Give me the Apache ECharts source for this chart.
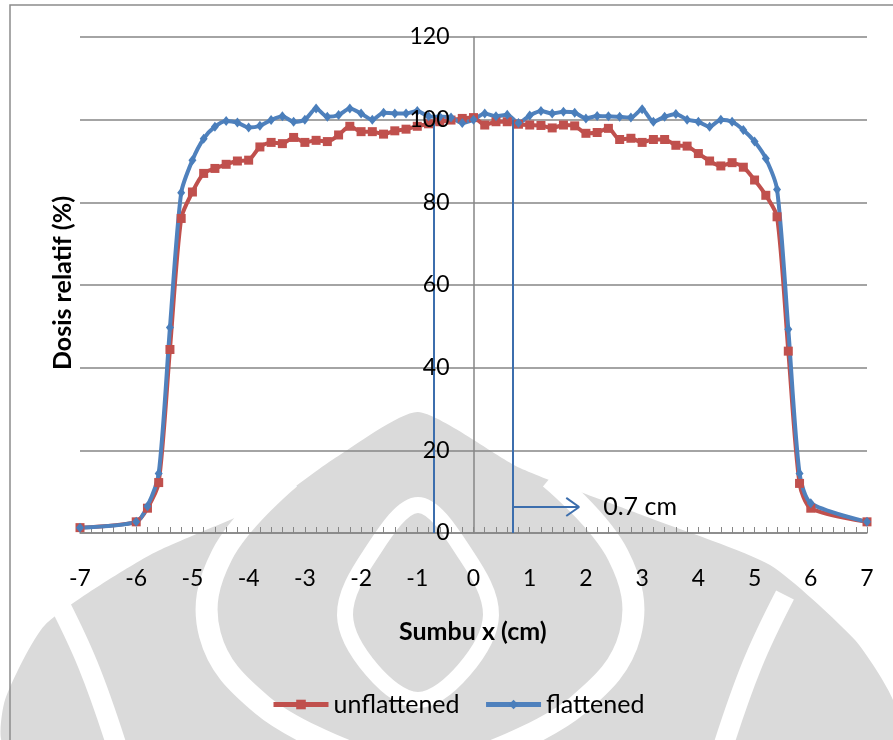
<!DOCTYPE html>
<html>
<head>
<meta charset="utf-8">
<script src="https://cdn.jsdelivr.net/npm/echarts@6/dist/echarts.min.js"></script>
<style>
  html, body { margin: 0; padding: 0; background: #fff; }
  #chart { width: 893px; height: 740px; }
</style>
</head>
<body>
<div id="chart"></div>
<script>
// posisi x (cm)
const xPos = [-7, -6, -5.8, -5.6, -5.4, -5.2, -5, -4.8, -4.6, -4.4, -4.2, -4, -3.8, -3.6, -3.4, -3.2, -3, -2.8, -2.6, -2.4, -2.2, -2, -1.8, -1.6, -1.4, -1.2, -1, -0.8, -0.6, -0.4, -0.2,
  0, 0.2, 0.4, 0.6, 0.8, 1, 1.2, 1.4, 1.6, 1.8, 2, 2.2, 2.4, 2.6, 2.8, 3, 3.2, 3.4, 3.6, 3.8, 4, 4.2, 4.4, 4.6, 4.8, 5, 5.2, 5.4, 5.6, 5.8, 6, 7];

const unflattened = [1.3, 2.7, 6.0, 12.2, 44.4, 76.1, 82.5, 87.0, 88.2, 89.2, 90.0, 90.2, 93.4, 94.5, 94.2, 95.7, 94.5, 95.0, 94.7, 96.3, 98.4, 97.1, 97.1, 96.5, 97.3, 97.7, 98.4, 99.0, 99.5, 99.9, 100.3,
  100.5, 98.7, 99.5, 99.5, 98.9, 98.7, 98.6, 98.0, 98.7, 98.5, 96.7, 96.9, 97.9, 95.2, 95.5, 94.5, 95.2, 95.2, 93.8, 93.6, 91.8, 90.0, 88.8, 89.6, 88.5, 85.4, 81.7, 76.5, 44.0, 12.0, 6.0, 2.7];

const flattened = [1.3, 2.7, 6.5, 14.4, 49.7, 82.3, 90.2, 95.4, 98.3, 99.7, 99.3, 98.1, 98.5, 99.9, 100.8, 99.5, 100.0, 102.7, 100.7, 101.1, 102.7, 101.5, 100.0, 101.7, 101.5, 101.5, 102.1, 100.8, 100.7, 100.5, 99.2,
  100.0, 101.5, 100.8, 101.2, 99.2, 101.0, 102.1, 101.5, 101.9, 101.7, 100.3, 100.9, 100.8, 100.7, 100.5, 102.5, 99.5, 100.7, 101.4, 100.0, 99.5, 98.3, 100.0, 99.5, 97.5, 94.7, 90.6, 83.1, 49.3, 14.4, 7.2, 2.7];

const fieldEdge = 0.7; // garis penanda +-0.7 cm
const arrowY = 6.3;
const arrowEnd = 1.88;

const zip = (xs, ys) => xs.map((x, i) => [x, ys[i]]);

const chart = echarts.init(document.getElementById('chart'));
const font = 'Lato, "Open Sans", sans-serif';

const gridLeft = 80, gridRight = 26;
// sumbu y memotong di x = 0 (tengah)
const yAxisShift = (893 - gridLeft - gridRight) / 2;

// watermark logo (kira-kira), abu-abu muda di belakang grafik
const wmGray = '#dadada';
const whiteBand = (points, w) => ({ type: 'polyline', z: -99, shape: { points: points, smooth: 0.4 }, style: { fill: null, stroke: '#fff', lineWidth: w } });
const watermark = [
  {
    type: 'polygon', z: -100,
    shape: { points: [[418, 412], [520, 468], [650, 518], [770, 565], [855, 640], [893, 700], [893, 745], [5, 745], [5, 700], [45, 625], [150, 555], [275, 500], [335, 458]], smooth: 0.2 },
    style: { fill: wmGray }
  },
  whiteBand([[290, 478], [222, 555], [210, 635], [262, 705], [345, 750]], 22),
  whiteBand([[550, 478], [618, 555], [630, 635], [578, 705], [495, 750]], 22),
  {
    type: 'polygon', z: -99,
    shape: { points: [[418, 505], [370, 555], [345, 615], [372, 670], [418, 700], [464, 670], [491, 615], [466, 555]], smooth: 0.35 },
    style: { fill: null, stroke: '#fff', lineWidth: 16 }
  },
  whiteBand([[55, 595], [88, 665], [118, 750]], 20),
  whiteBand([[785, 595], [752, 665], [722, 750]], 20)
];

const option = {
  animation: false,
  textStyle: { fontFamily: font },
  grid: { left: gridLeft, right: gridRight, top: 37, bottom: 207 },
  graphic: watermark.concat([
    { type: 'rect', shape: { x: 10, y: 5, width: 900, height: 760 }, style: { fill: null, stroke: '#8c8c8c', lineWidth: 1.5 } },
    { type: 'text', left: 399, top: 619, style: { text: 'Sumbu x (cm)', font: 'bold 25px ' + font, fill: '#000' } },
    { type: 'text', left: 50, top: 196, rotation: Math.PI / 2, style: { text: 'Dosis relatif (%)', font: 'bold 25px ' + font, fill: '#000' } }
  ]),
  legend: {
    bottom: 18,
    left: 266,
    itemWidth: 55,
    itemHeight: 12,
    itemGap: 24,
    lineStyle: { width: 5 },
    textStyle: { fontSize: 25, color: '#000', fontFamily: font },
    data: ['unflattened', 'flattened']
  },
  xAxis: {
    type: 'value',
    min: -7,
    max: 7,
    interval: 1,
    axisLine: { onZero: true, lineStyle: { color: '#868686', width: 1.5 } },
    axisTick: { show: true, inside: true, length: 6, lineStyle: { color: '#868686' } },
    minorTick: { show: true, splitNumber: 5, length: 6, lineStyle: { color: '#868686' } },
    axisLabel: { margin: 34, fontSize: 23, color: '#000' },
    splitLine: { show: false }
  },
  yAxis: [
    {
      type: 'value',
      position: 'left',
      min: 0,
      max: 120,
      interval: 20,
      offset: -yAxisShift,
      axisLine: { show: true, onZero: false, lineStyle: { color: '#868686', width: 1.5 } },
      axisTick: { show: false },
      axisLabel: { show: false },
      splitLine: { lineStyle: { color: '#868686', width: 1.5 } }
    },
    {
      // hanya label, di atas garis data
      type: 'value',
      position: 'left',
      min: 0,
      max: 120,
      interval: 20,
      offset: -yAxisShift,
      z: 10,
      axisLine: { show: false, onZero: false },
      axisTick: { show: false },
      axisLabel: { margin: 24, fontSize: 23, color: '#000' },
      splitLine: { show: false }
    }
  ],
  series: [
    {
      name: 'unflattened',
      type: 'line',
      data: zip(xPos, unflattened),
      smooth: 0.25,
      symbol: 'rect',
      symbolSize: 9,
      itemStyle: { color: '#C0504D' },
      lineStyle: { color: '#C0504D', width: 4 }
    },
    {
      name: 'flattened',
      type: 'line',
      data: zip(xPos, flattened),
      smooth: 0.25,
      symbol: 'diamond',
      symbolSize: [8, 10],
      itemStyle: { color: '#4A7EBB' },
      lineStyle: { color: '#4F81BD', width: 4 },
      markLine: {
        silent: true,
        symbol: ['none', 'none'],
        lineStyle: { color: '#3C6EAD', width: 2, type: 'solid' },
        label: { show: false },
        data: [
          [{ coord: [-fieldEdge, 100] }, { coord: [-fieldEdge, 0] }],
          [{ coord: [fieldEdge, 100] }, { coord: [fieldEdge, 0] }],
          [
            { coord: [fieldEdge, arrowY] },
            {
              coord: [arrowEnd, arrowY],
              label: { show: true, position: 'end', distance: 24, formatter: '0.7 cm', fontSize: 25, color: '#000', fontFamily: font }
            }
          ],
          // kepala panah terbuka
          [{ coord: [arrowEnd - 0.23, arrowY + 2.2] }, { coord: [arrowEnd, arrowY] }],
          [{ coord: [arrowEnd - 0.23, arrowY - 2.2] }, { coord: [arrowEnd, arrowY] }]
        ]
      }
    }
  ]
};

chart.setOption(option);
</script>
</body>
</html>
